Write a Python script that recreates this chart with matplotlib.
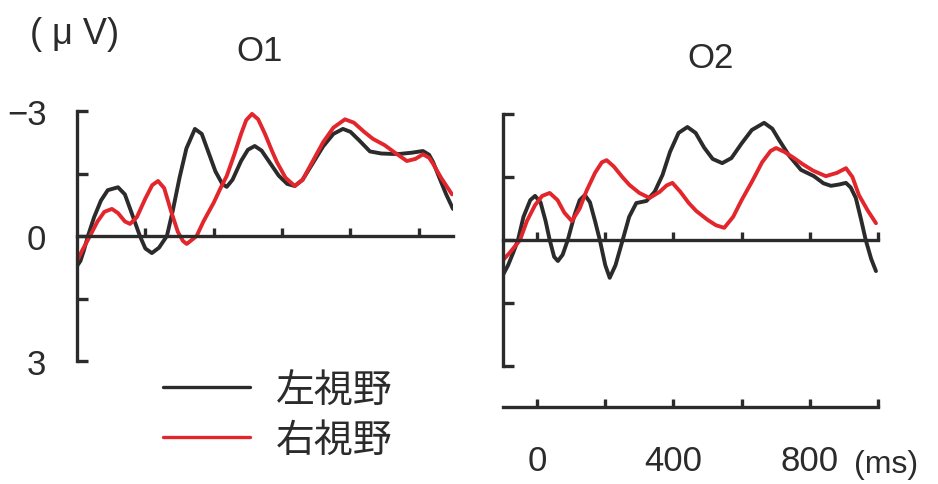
import matplotlib
matplotlib.use("Agg")
import matplotlib.pyplot as plt

# ---------------- data ----------------
# O1, left visual field (black)
o1_left_t = [-100, -90, -80, -68, -50, -30, -10, 20, 40, 60, 84, 100, 119, 140, 163, 180, 200, 220, 245,
             265, 285, 305, 325, 338, 355, 380, 400, 420, 440, 465, 490, 515, 537, 560, 590, 620, 650,
             678, 700, 725, 757, 790, 820, 844, 880, 912, 930, 942, 960, 980, 1000]
o1_left_v = [0.72, 0.6, 0.35, 0.0, -0.45, -0.85, -1.1, -1.17, -1.0, -0.55, 0.0, 0.3, 0.41, 0.28, 0.0, -0.6,
             -1.4, -2.1, -2.57, -2.45, -2.0, -1.55, -1.25, -1.18, -1.35, -1.8, -2.07, -2.16, -2.05, -1.75,
             -1.45, -1.25, -1.2, -1.35, -1.75, -2.15, -2.45, -2.57, -2.5, -2.3, -2.03, -1.98, -1.97, -1.97,
             -2.0, -2.04, -1.95, -1.77, -1.4, -1.0, -0.65]
# O1, right visual field (red)
o1_right_t = [-100, -85, -62, -40, -20, 2, 20, 40, 55, 75, 100, 120, 137, 155, 175, 195, 210, 221, 235, 250,
              270, 300, 320, 338, 360, 380, 395, 412, 430, 450, 470, 485, 510, 537, 560, 590, 620, 650,
              684, 710, 740, 766, 800, 830, 865, 890, 912, 930, 942, 965, 997]
o1_right_v = [0.6, 0.35, 0.0, -0.35, -0.58, -0.65, -0.55, -0.35, -0.29, -0.45, -0.9, -1.22, -1.32, -1.15,
              -0.6, -0.1, 0.12, 0.19, 0.1, 0.0, -0.35, -0.8, -1.15, -1.44, -1.95, -2.45, -2.78, -2.93, -2.8,
              -2.45, -2.05, -1.77, -1.4, -1.2, -1.35, -1.8, -2.25, -2.6, -2.8, -2.72, -2.5, -2.33, -2.18,
              -2.0, -1.8, -1.85, -1.96, -1.88, -1.73, -1.4, -1.0]
# O2, left visual field (black)
o2_left_t = [-100, -85, -70, -56, -40, -20, -6, 10, 25, 37, 50, 61, 75, 90, 110, 125, 140, 155, 170, 184,
             200, 213, 230, 251, 270, 291, 321, 345, 368, 390, 415, 441, 465, 490, 515, 543, 570, 600,
             630, 666, 690, 710, 740, 774, 812, 840, 862, 885, 906, 920, 935, 950, 964, 980, 994]
o2_left_v = [0.83, 0.6, 0.3, 0.0, -0.55, -0.95, -1.05, -0.9, -0.45, 0.0, 0.4, 0.5, 0.35, 0.0, -0.6, -0.95,
             -1.07, -0.9, -0.45, 0.0, 0.6, 0.9, 0.6, 0.0, -0.55, -0.88, -0.93, -1.15, -1.55, -2.1, -2.55,
             -2.69, -2.55, -2.2, -1.93, -1.83, -1.95, -2.3, -2.62, -2.79, -2.65, -2.38, -2.0, -1.67, -1.52,
             -1.35, -1.29, -1.32, -1.36, -1.25, -1.0, -0.5, 0.0, 0.45, 0.74]
# O2, right visual field (red)
o2_right_t = [-100, -80, -50, -30, -6, 15, 37, 60, 80, 102, 125, 145, 170, 190, 204, 225, 250, 271, 300,
              330, 360, 380, 397, 420, 445, 467, 500, 525, 549, 575, 600, 631, 660, 685, 701, 725, 754,
              780, 810, 847, 880, 906, 925, 944, 970, 994]
o2_right_v = [0.48, 0.3, 0.0, -0.45, -0.83, -1.05, -1.12, -0.95, -0.65, -0.45, -0.75, -1.17, -1.6, -1.85,
              -1.9, -1.75, -1.5, -1.31, -1.12, -1.0, -1.15, -1.3, -1.36, -1.15, -0.88, -0.69, -0.48, -0.35,
              -0.29, -0.55, -0.95, -1.4, -1.85, -2.12, -2.19, -2.1, -1.95, -1.8, -1.65, -1.52, -1.6, -1.71,
              -1.5, -1.07, -0.7, -0.4]

titles = ["O1", "O2"]
legend_labels = ["左視野", "右視野"]
y_ticks = [-3, -1.5, 0, 1.5, 3]
y_ticklabels = ["\u22123", "", "0", "", "3"]
o1_x_ticks = [100, 300, 500, 700, 900]
o2_x_ticks = [0, 200, 400, 600, 800, 1000]
time_ticklabels = ["0", "", "400", "", "800", ""]

# ---------------- styling ----------------
W, H = 938, 485
BLACK = "#2b2b2b"
RED = "#e2262c"
NUM_FONT = ["Liberation Sans", "DejaVu Sans"]
CJK_FONT = ["Noto Sans CJK JP", "DejaVu Sans"]
LW_CURVE = 2.8
LW_AXIS = 2.4

fig = plt.figure(figsize=(W / 100, H / 100), dpi=100)
fig.patch.set_facecolor("white")


def px_axes(x0, y_top, x1, y_bot):
    return fig.add_axes([x0 / W, 1 - y_bot / H, (x1 - x0) / W, (y_bot - y_top) / H])


def style_panel(ax, xticks):
    ax.set_xlim(-100, 1000)
    ax.set_ylim(3, -3)
    for s in ["top", "right"]:
        ax.spines[s].set_visible(False)
    ax.spines["left"].set_linewidth(LW_AXIS)
    ax.spines["left"].set_color(BLACK)
    ax.spines["left"].set_bounds(-3, 3)
    ax.spines["bottom"].set_position(("data", 0))
    ax.spines["bottom"].set_linewidth(LW_AXIS)
    ax.spines["bottom"].set_color(BLACK)
    ax.set_xticks(xticks)
    ax.set_xticklabels([])
    ax.tick_params(axis="x", direction="in", length=6, width=LW_AXIS, color=BLACK)
    ax.set_yticks(y_ticks)
    ax.tick_params(axis="y", direction="in", length=8, width=LW_AXIS, color=BLACK)
    ax.patch.set_alpha(0)


def draw(ax, t, v, col):
    ax.plot(t, v, color=col, lw=LW_CURVE, solid_joinstyle="round", solid_capstyle="round")


# Left panel (O1)
ax1 = px_axes(77, 112, 453, 362)
style_panel(ax1, o1_x_ticks)
ax1.set_yticklabels(y_ticklabels, fontsize=25, family=NUM_FONT, color=BLACK)
ax1.tick_params(axis="y", pad=22)
draw(ax1, o1_left_t, o1_left_v, BLACK)
draw(ax1, o1_right_t, o1_right_v, RED)

# Right panel (O2)
ax2 = px_axes(503, 115, 878, 367)
style_panel(ax2, o2_x_ticks)
ax2.set_yticklabels([])
draw(ax2, o2_left_t, o2_left_v, BLACK)
draw(ax2, o2_right_t, o2_right_v, RED)

# Time axis under O2
ax3 = px_axes(503, 300, 878, 408)
ax3.set_xlim(-100, 1000)
ax3.set_ylim(0, 1)
for s in ["top", "right", "left"]:
    ax3.spines[s].set_visible(False)
ax3.spines["bottom"].set_linewidth(LW_AXIS)
ax3.spines["bottom"].set_color(BLACK)
ax3.set_yticks([])
ax3.set_xticks(o2_x_ticks)
ax3.set_xticklabels(time_ticklabels, fontsize=25, family=NUM_FONT, color=BLACK)
ax3.tick_params(axis="x", direction="in", length=6, width=LW_AXIS, color=BLACK, pad=27)
ax3.patch.set_alpha(0)
fig.text(854 / W, 1 - 465 / H, "(ms)", fontsize=23, family=NUM_FONT, color=BLACK, va="center", ha="left")

# Titles and unit
fig.text(260 / W, 1 - 52 / H, titles[0], fontsize=25, family=NUM_FONT, color=BLACK, ha="center", va="center")
fig.text(711 / W, 1 - 58 / H, titles[1], fontsize=25, family=NUM_FONT, color=BLACK, ha="center", va="center")
fig.text(30 / W, 1 - 35 / H, "( \u03bc V)", fontsize=26, family=NUM_FONT, color=BLACK, ha="left", va="center")

# Legend
for i, (lab, col) in enumerate(zip(legend_labels, [BLACK, RED])):
    yc = [388, 438][i]
    fig.add_artist(plt.Line2D([163 / W, 250 / W], [1 - yc / H, 1 - yc / H], color=col, lw=LW_AXIS,
                              solid_capstyle="round"))
    fig.text(276 / W, 1 - (yc + 3) / H, lab, fontsize=28, family=CJK_FONT, color=BLACK, ha="left",
             va="center")

fig.savefig("out.png", dpi=100, facecolor="white")
